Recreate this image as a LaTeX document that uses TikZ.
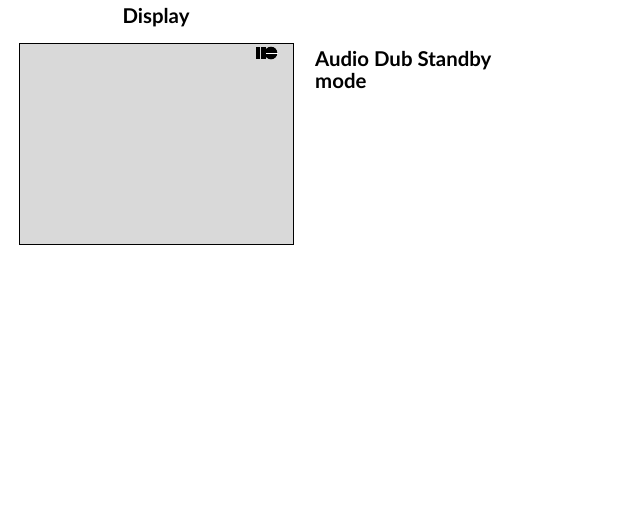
\documentclass[tikz,border=0pt]{standalone}
\usepackage{fontspec}
\setmainfont{Lato}
\tikzset{
  screen/.style={draw=black,fill=black!15,line width=1pt,anchor=north west,minimum width=274pt,minimum height=201pt,inner sep=0pt},
  label/.style={font=\fontsize{20.4}{22}\selectfont\bfseries,inner sep=0pt,align=left,anchor=north west},
  glyph/.style={fill=black,draw=none}
}
\begin{document}
\begin{tikzpicture}[x=1pt,y=-1pt]
\useasboundingbox (0,0) rectangle (640,512);
\node[screen] (display) at (19,43) {};
\node[label,anchor=base] (title) at (156,23) {Display};
\node[label,anchor=base west] (mode) at (315,66) {Audio Dub Standby};
\node[label,anchor=base west] (mode2) at (315,88) {mode};
\fill[glyph] (256,46.5) rectangle (260.2,59);
\fill[glyph] (261,46.5) rectangle (265.5,59);
\fill[glyph] (271,53) circle (6.3);
\fill[white] (265.5,52.6) rectangle (278,53.4);
\end{tikzpicture}
\end{document}
